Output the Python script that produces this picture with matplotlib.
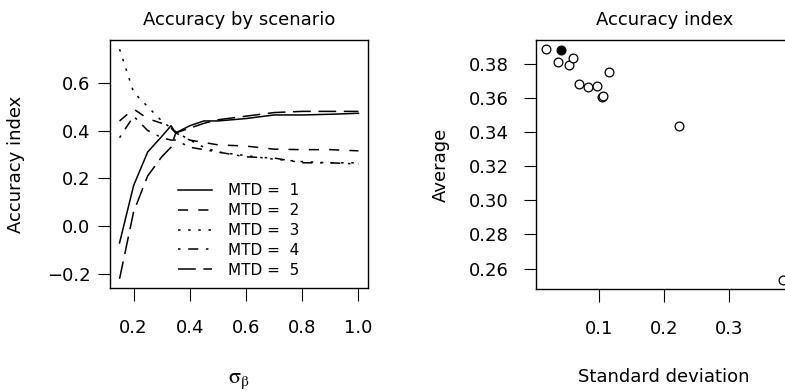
import matplotlib
matplotlib.use("Agg")
import matplotlib.pyplot as plt
import numpy as np

plt.rcParams['font.family'] = ['DejaVu Sans']
plt.rcParams['mathtext.fontset'] = 'stix'

# ---- data: left panel (accuracy by scenario) ----
sigma = [0.15, 0.2, 0.25, 0.3, 0.333, 0.35, 0.4, 0.45, 0.5, 0.6, 0.7, 0.8, 0.9, 1.0]
mtd1 = [-0.07, 0.17, 0.31, 0.375, 0.42, 0.39, 0.42, 0.44, 0.44, 0.45, 0.465, 0.465, 0.468, 0.472]
mtd2 = [0.44, 0.49, 0.45, 0.43, 0.41, 0.39, 0.36, 0.35, 0.34, 0.335, 0.322, 0.32, 0.32, 0.315]
mtd3 = [0.74, 0.56, 0.50, 0.44, 0.41, 0.395, 0.36, 0.33, 0.31, 0.295, 0.28, 0.27, 0.265, 0.265]
mtd4 = [0.37, 0.46, 0.40, 0.37, 0.36, 0.36, 0.33, 0.32, 0.31, 0.29, 0.285, 0.265, 0.265, 0.26]
mtd5 = [-0.22, 0.06, 0.21, 0.29, 0.33, 0.39, 0.41, 0.43, 0.445, 0.46, 0.475, 0.48, 0.48, 0.48]
series = [mtd1, mtd2, mtd3, mtd4, mtd5]
labels = ["MTD =  1", "MTD =  2", "MTD =  3", "MTD =  4", "MTD =  5"]

# ---- data: right panel (accuracy index: sd vs average) ----
sd_open = [0.018, 0.0376, 0.0546, 0.0598, 0.0700, 0.0830, 0.0974, 0.1050, 0.1070, 0.1155, 0.2230, 0.3835]
avg_open = [0.3884, 0.3812, 0.3792, 0.3835, 0.3681, 0.3662, 0.3670, 0.3605, 0.3608, 0.3753, 0.3432, 0.2534]
sd_filled = [0.0418]
avg_filled = [0.3880]

left_yticks = [-0.2, 0.0, 0.2, 0.4, 0.6]
left_xticks = [0.2, 0.4, 0.6, 0.8, 1.0]
right_yticks = [0.26, 0.28, 0.30, 0.32, 0.34, 0.36, 0.38]
right_xticks = [0.1, 0.2, 0.3]

W, H = 785, 391
fig = plt.figure(figsize=(W / 100, H / 100), dpi=100)

def rlim(vals):
    lo, hi = min(vals), max(vals)
    e = (hi - lo) * 0.04
    return lo - e, hi + e

FS = 13
unit = 1.66
dashes = [
    None,
    (0, (4 * unit, 4 * unit)),
    (0, (1 * unit, 3 * unit)),
    (0, (1 * unit, 3 * unit, 4 * unit, 3 * unit)),
    (0, (7 * unit, 3 * unit)),
]

# left axes: pixels x 110-368, y 40-288
ax1 = fig.add_axes([110 / W, 1 - 288 / H, 258 / W, 248 / H])
for s, d, lab in zip(series, dashes, labels):
    if d is None:
        ax1.plot(sigma, s, color='black', lw=1.1, label=lab)
    else:
        ax1.plot(sigma, s, color='black', lw=1.1, linestyle=d, label=lab)
ax1.set_xlim(*rlim(sigma))
ax1.set_ylim(*rlim([v for s in series for v in s]))
ax1.set_xticks(left_xticks)
ax1.set_xticklabels(["0.2", "0.4", "0.6", "0.8", "1.0"])
ax1.set_yticks(left_yticks)
ax1.set_yticklabels(["\u22120.2", "0.0", "0.2", "0.4", "0.6"])
ax1.tick_params(axis='both', direction='out', length=9, width=0.8, labelsize=FS)
ax1.tick_params(axis='x', pad=13)
ax1.tick_params(axis='y', pad=5)
ax1.set_title("Accuracy by scenario", fontsize=FS, pad=11)
ax1.set_ylabel("Accuracy index", fontsize=FS)
ax1.yaxis.label.set_verticalalignment('center')
ax1.yaxis.set_label_coords((16 - 110) / 258, 0.5)
ax1.set_xlabel(r"$\mathrm{\sigma_\beta}$", fontsize=FS + 3)
ax1.xaxis.label.set_verticalalignment('center')
ax1.xaxis.set_label_coords(0.5, -(381 - 288) / 248)
leg = ax1.legend(loc='upper left', bbox_to_anchor=(0.2636, 0.423), frameon=False,
                 fontsize=11, borderpad=0, borderaxespad=0, handlelength=2.2,
                 handletextpad=1.05, labelspacing=0.32)
for sp in ax1.spines.values():
    sp.set_linewidth(1.0)

# right axes: pixels x 536-792.5 (beyond figure), y 40-289
ax2 = fig.add_axes([536 / W, 1 - 289 / H, 256.5 / W, 249 / H])
ax2.plot(sd_open, avg_open, linestyle='none', marker='o', markersize=6.3,
         markerfacecolor='white', markeredgecolor='black', markeredgewidth=0.9)
ax2.plot(sd_filled, avg_filled, linestyle='none', marker='o', markersize=6.3,
         markerfacecolor='black', markeredgecolor='black', markeredgewidth=0.9)
ax2.set_xlim(*rlim(sd_open + sd_filled))
ax2.set_ylim(*rlim(avg_open + avg_filled))
ax2.set_xticks(right_xticks)
ax2.set_xticklabels(["0.1", "0.2", "0.3"])
ax2.set_yticks(right_yticks)
ax2.set_yticklabels(["%.2f" % v for v in right_yticks])
ax2.tick_params(axis='both', direction='out', length=9, width=0.8, labelsize=FS)
ax2.tick_params(axis='x', pad=13)
ax2.tick_params(axis='y', pad=10.5)
ax2.set_title("Accuracy index", fontsize=FS, pad=11)
ax2.set_ylabel("Average", fontsize=FS)
ax2.yaxis.label.set_verticalalignment('center')
ax2.yaxis.set_label_coords((441 - 536) / 256.5, 0.5)
ax2.set_xlabel("Standard deviation", fontsize=FS)
ax2.xaxis.label.set_verticalalignment('center')
ax2.xaxis.set_label_coords(0.5, -(377 - 289) / 249)
for sp in ax2.spines.values():
    sp.set_linewidth(1.0)

fig.savefig("out.png", dpi=100)
